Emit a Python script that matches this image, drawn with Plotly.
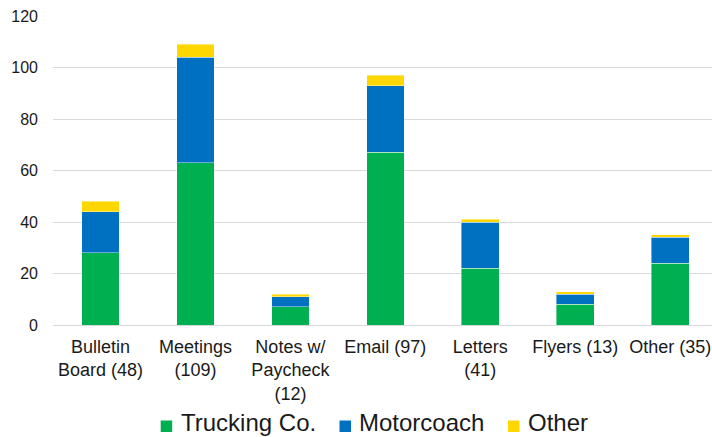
import plotly.graph_objects as go

categories = ["Bulletin<br>Board (48)", "Meetings<br>(109)", "Notes w/<br>Paycheck<br>(12)",
              "Email (97)", "Letters<br>(41)", "Flyers (13)", "Other (35)"]
trucking = [28, 63, 7, 67, 22, 8, 24]
motorcoach = [16, 41, 4, 26, 18, 4, 10]
other = [4, 5, 1, 4, 1, 1, 1]

series_names = ["Trucking Co.", "Motorcoach", "Other"]
series_values = [trucking, motorcoach, other]
series_colors = ["#00B050", "#0070C0", "#FFD700"]

W, H = 712, 437
L, T, B = 53, 16, 112
PW = W - L
PH = H - T - B

fig = go.Figure()
for name, vals, color in zip(series_names, series_values, series_colors):
    fig.add_trace(go.Bar(
        x=categories, y=vals, name=name, showlegend=False,
        marker=dict(color=color, line=dict(color="rgba(255,255,255,0.55)", width=0.75)),
    ))

def px_x(p):
    return (p - L) / PW

def px_y(p):
    return (T + PH - p) / PH

# manual legend (pixel positions)
sq_left = [160.7, 339.5, 508]
txt_left = [178.5, 356.7, 526]
shapes = []
annotations = []
for i, (name, color) in enumerate(zip(series_names, series_colors)):
    shapes.append(dict(type="rect", xref="paper", yref="paper",
                       x0=px_x(sq_left[i]), x1=px_x(sq_left[i] + 11.5),
                       y0=px_y(432), y1=px_y(420.5),
                       fillcolor=color, line=dict(width=0)))
    annotations.append(dict(xref="paper", yref="paper", x=px_x(txt_left[i]), y=px_y(422.5),
                            xanchor="left", yanchor="middle", showarrow=False,
                            text=name, font=dict(size=24, color="#1a1a1a")))

fig.update_layout(
    barmode="stack",
    bargap=0.603,
    width=W, height=H,
    margin=dict(l=L, r=0, t=T, b=B, pad=0),
    paper_bgcolor="white", plot_bgcolor="white",
    font=dict(family="Liberation Sans, Arial, sans-serif", color="#1a1a1a"),
    showlegend=False,
    shapes=shapes,
    annotations=annotations,
    xaxis=dict(range=[-0.5, 6.44], tickfont=dict(size=18), showline=False,
               ticks="", ticklabelstandoff=9, ticklabeloverflow="allow", automargin=False),
    yaxis=dict(range=[0, 120], dtick=20, tickfont=dict(size=16), gridcolor="#D9D9D9",
               gridwidth=1, zeroline=True, zerolinecolor="#D9D9D9", zerolinewidth=1,
               showline=False, ticks="", ticklabelstandoff=14, ticklabeloverflow="allow",
               automargin=False),
)

fig.write_html("out.html", config={"displayModeBar": False},
               post_script="document.body.style.margin='0px';")
